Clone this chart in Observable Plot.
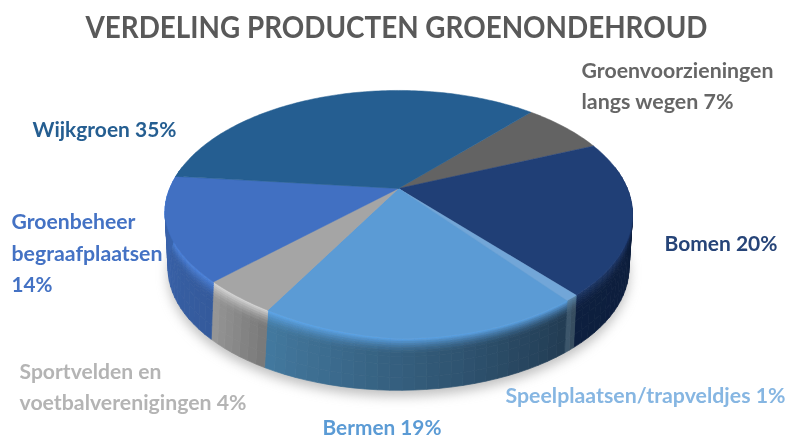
<!DOCTYPE html>
<html>
<head>
<meta charset="utf-8">
<script src="https://cdn.jsdelivr.net/npm/d3@7"></script>
<script src="https://cdn.jsdelivr.net/npm/@observablehq/plot@0.6"></script>
<style>
html,body{margin:0;padding:0;background:#fff}
.shadow{filter:blur(6px)}
.soft{filter:blur(.5px)}
.labels text,.heading text{filter:blur(.45px)}
</style>
</head>
<body>
<div id="chart"></div>
<script>
// --- values (slice sizes as drawn; printed labels are rounded)
const categories = ["Groenvoorzieningen langs wegen","Bomen","Speelplaatsen/trapveldjes","Bermen","Sportvelden en voetbalverenigingen","Groenbeheer begraafplaatsen","Wijkgroen"];
const shares = [7,20,0.8,18.6,4.45,14.15,35];
const chartTitle = "VERDELING PRODUCTEN GROENONDEHROUD";
const labelLines = [
  ["Groenvoorzieningen","langs wegen 7%"],
  ["Bomen 20%"],
  ["Speelplaatsen/trapveldjes 1%"],
  ["Bermen 19%"],
  ["Sportvelden en","voetbalverenigingen 4%"],
  ["Groenbeheer","begraafplaatsen","14%"],
  ["Wijkgroen 35%"]
];
// --- styles
const topColors  = ["#636363","#203f76","#72a6d8","#5b9bd5","#a5a5a5","#4170c2","#255e91"];
const wallStart  = ["#555555","#0c1c38","#34495a","#223c53","#787878","#345a9c","#1c4a75"];
const wallEnd    = ["#555555","#0d1f3f","#3f5a70","#43799f","#979797","#3b66b0","#1c4a75"];
const rimColors  = ["#777777","#1d3768","#5a88ae","#5ea8ee","#dcdcdc","#4d86e2","#2a6aa5"];
const labelColors= ["#666666","#264478","#86b6e2","#5b9bd5","#b4b4b4","#4472c4","#255e91"];
// --- layout: label anchors and widths in viewport units
const labelX = [[581,581],[664],[505],[322],[19,19],[11,11,11],[32]];
const labelY = [[71,102],[244],[396],[428],[372,403],[222,254,285],[130]];
const labelW = [[192,152],[113],[280],[119],[142,227],[124,151,41],[144]];
const view = {cx:398, y0:188, y0b:242, a:228.8, b:118.6, p:0.2095, s:0.985, rotation:42, warp:14};
const wallSteps = [0,.03,.06,.1,.14,.18,.23,.28,.35,.5,.75,1];

function project(theta, level){
  const r = theta*Math.PI/180, u = Math.sin(r), v = -Math.cos(r), w = 1 - view.p*v;
  const s = level ? view.s : 1, y0 = level ? view.y0b : view.y0;
  // the top face of the reference sits slightly flatter in its lower-left quadrant
  const q = (!level && u<0 && v>0) ? view.warp*(-u)*v*v : 0;
  return {x: view.cx + s*view.a*u/w + q, y: y0 + s*view.b*v/w - q, v};
}
const total = d3.sum(shares);
let acc = view.rotation;
const slices = shares.map((d,i)=>{ const start=acc; acc+=d/total*360; return {i,start,end:acc}; });

const topRows = [], wallRows = [], shadowRows = [];
for (const sl of slices){
  const id = "t"+sl.i, fillT = topColors[sl.i];
  topRows.push({id,x:view.cx,y:view.y0,fill:fillT});
  const n = Math.ceil(sl.end-sl.start);
  for (let k=0;k<=n;k++){
    const p = project(sl.start+(sl.end-sl.start)*k/n,0);
    topRows.push({id,x:p.x,y:p.y,fill:fillT});
  }
  topRows.push({id,x:view.cx,y:view.y0,fill:fillT});
  const m = Math.max(2,Math.ceil((sl.end-sl.start)/2.5));
  for (let k=0;k<m;k++){
    const a0 = sl.start+(sl.end-sl.start)*k/m, a1 = sl.start+(sl.end-sl.start)*(k+1)/m;
    if (project(a0,0).v < -0.15 && project(a1,0).v < -0.15) continue;
    const base = d3.interpolateRgb(wallStart[sl.i],wallEnd[sl.i])((k+.5)/m);
    for (let j=0;j<wallSteps.length-1;j++){
      const t0=wallSteps[j], t1=wallSteps[j+1], tm=(t0+t1)/2;
      const rim = Math.pow(Math.max(0,1-tm/.3),1.6);
      const fill = d3.rgb(d3.interpolateRgb(base,rimColors[sl.i])(rim)).formatHex();
      const wid = `w${sl.i}-${k}-${j}`;
      const pt=(a,t)=>{const A=project(a,0),B=project(a,1);return {id:wid,x:A.x+(B.x-A.x)*t,y:A.y+(B.y-A.y)*t,fill};};
      wallRows.push(pt(a0,t0),pt(a1,t0),pt(a1,t1),pt(a0,t1),pt(a0,t0));
    }
  }
}
for (let a=0;a<360;a+=3){ const p=project(a,1); shadowRows.push({x:p.x,y:p.y+6}); }

const labelRows = [];
labelLines.forEach((lines,i)=>lines.forEach((text,j)=>labelRows.push({
  text,x:labelX[i][j],y:labelY[i][j],fill:labelColors[i],w:labelW[i][j]
})));
const titleRows = [{text:chartTitle,x:396,y:28,fill:"#595959",w:622}];

const chart = Plot.plot({
  width:789,height:440,margin:0,
  x:{domain:[0,789],range:[0,789],axis:null},
  y:{domain:[0,440],range:[0,440],axis:null},
  color:{type:"identity"},
  style:{background:"#fff"},
  marks:[
    Plot.line(shadowRows,{x:"x",y:"y",fill:"#8a8a8a",stroke:"none",fillOpacity:.55,className:"shadow"}),
    Plot.line(wallRows,{x:"x",y:"y",z:"id",fill:"fill",stroke:"fill",strokeWidth:.7,curve:"linear",className:"soft"}),
    Plot.line(topRows,{x:"x",y:"y",z:"id",fill:"fill",stroke:"fill",strokeWidth:.5,curve:"linear",className:"soft"}),
    Plot.text(titleRows,{x:"x",y:"y",text:"text",fill:"fill",fontSize:31,fontWeight:700,fontFamily:"Lato",textAnchor:"middle",className:"heading"}),
    Plot.text(labelRows,{x:"x",y:"y",text:"text",fill:"fill",fontSize:21.5,fontWeight:700,fontFamily:"Lato",textAnchor:"start",className:"labels"})
  ]
});
document.getElementById("chart").appendChild(chart);
d3.select(chart).selectAll(".labels text, .heading text").each(function(){
  const d = [...titleRows,...labelRows].find(r=>r.text===this.textContent);
  if (d) d3.select(this).attr("textLength",d.w).attr("lengthAdjust","spacingAndGlyphs");
});
</script>
</body>
</html>
